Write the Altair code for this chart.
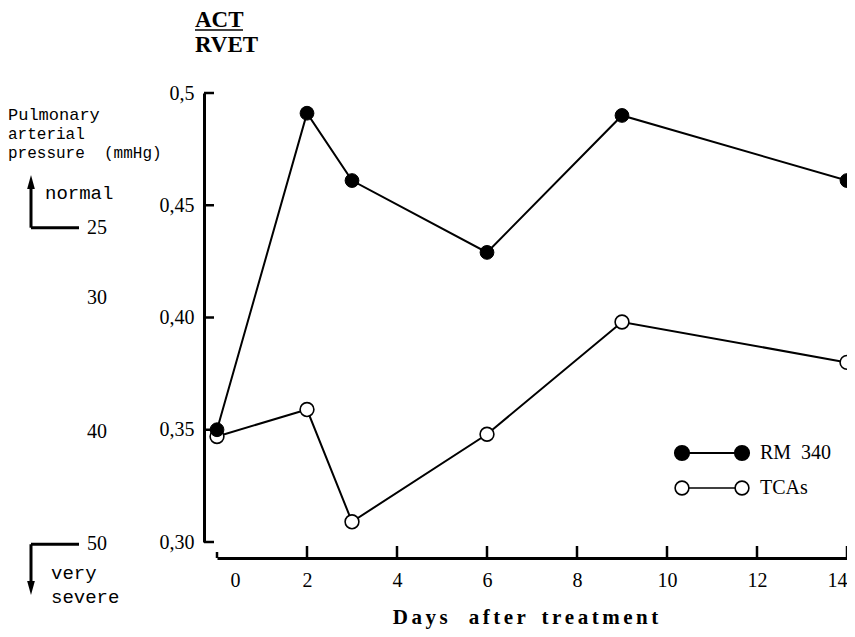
import altair as alt
import pandas as pd

# ---- data ----
days = [0, 2, 3, 6, 9, 14]
rm340 = [0.350, 0.491, 0.461, 0.429, 0.490, 0.461]
tcas = [0.347, 0.359, 0.309, 0.348, 0.398, 0.380]
series_names = ["RM 340", "TCAs"]
x_ticks = [0, 2, 4, 6, 8, 10, 12, 14]
y_ticks = [0.30, 0.35, 0.40, 0.45, 0.50]
pressure_labels = ["25", "30", "40", "50"]
pressure_at = [0.440, 0.4085, 0.349, 0.299]

W, H = 630, 449
SERIF = "Liberation Serif"
MONO = "Liberation Mono"
NB = "\u00a0"
SP = "\u2006"


def spaced(word):
    return SP.join(word)


x_title = spaced("Days") + NB * 4 + spaced("after") + NB * 3 + spaced("treatment")

df = pd.DataFrame({
    "day": days + days,
    "value": rm340 + tcas,
    "series": [series_names[0]] * len(days) + [series_names[1]] * len(days),
})
tdf = pd.DataFrame({"day": x_ticks})
ydf = pd.DataFrame({"value": y_ticks})
pdf = pd.DataFrame({"label": pressure_labels, "value": pressure_at})
one = pd.DataFrame({"k": [0]})

xs = alt.Scale(domain=[0, 14], nice=False, zero=False)
ys = alt.Scale(domain=[0.30, 0.50], nice=False, zero=False)

xaxis = alt.Axis(
    values=x_ticks, ticks=False, tickSize=0, grid=False,
    domainColor="black", domainWidth=3, offset=16,
    labelFont=SERIF, labelFontSize=20, labelColor="black", labelPadding=12,
    labelFlush=False, labelOverlap=False,
    labelAlign={"condition": {"test": "datum.value == 14", "value": "right"}, "value": "center"},
    labelOffset={"condition": {"test": "datum.value == 0", "value": 18}, "value": 0},
    title=x_title, titleFont=SERIF, titleFontSize=21,
    titleFontWeight="bold", titleColor="black", titlePadding=16, titleX=308,
)
yaxis = alt.Axis(
    values=y_ticks, ticks=False, tickSize=0, grid=False,
    domainColor="black", domainWidth=3, offset=13,
    labelFont=SERIF, labelFontSize=20, labelColor="black", labelPadding=10,
    labelOverlap=False,
    labelExpr="datum.value > 0.49 ? '0,5' : replace(format(datum.value, '.2f'), '.', ',')",
    title=None,
)

X = alt.X("day:Q", scale=xs, axis=xaxis)
Y = alt.Y("value:Q", scale=ys, axis=yaxis)

lines = alt.Chart(df).mark_line(color="black", strokeWidth=2).encode(x=X, y=Y, detail="series:N")
tca_pts = alt.Chart(df).transform_filter(f"datum.series == '{series_names[1]}'").mark_point(
    shape="circle", filled=True, fill="white", stroke="black", strokeWidth=1.6, size=190, opacity=1
).encode(x=X, y=Y)
rm_pts = alt.Chart(df).transform_filter(f"datum.series == '{series_names[0]}'").mark_point(
    shape="circle", filled=True, fill="black", stroke="black", strokeWidth=1, size=190, opacity=1
).encode(x=X, y=Y)

# inward ticks
xt_main = alt.Chart(tdf).transform_filter("datum.day > 0").mark_rule(color="black", strokeWidth=2.5).encode(
    x=X, y=alt.value(H + 16), y2=alt.value(H + 4))
xt_end = alt.Chart(tdf).transform_filter("datum.day == 0").mark_rule(color="black", strokeWidth=2.5).encode(
    x=X, y=alt.value(H + 16), y2=alt.value(H + 10))
yt = alt.Chart(ydf).mark_rule(color="black", strokeWidth=2.5).encode(
    y=Y, x=alt.value(-13), x2=alt.value(-3))

# pressure side scale
p_text = alt.Chart(pdf).mark_text(align="left", baseline="middle", font=SERIF, fontSize=20, color="black").encode(
    x=alt.value(-130), y=Y, text="label:N")
p_h = alt.Chart(pdf).transform_filter("datum.label == '25' || datum.label == '50'").mark_rule(
    color="black", strokeWidth=3).encode(x=alt.value(-186), x2=alt.value(-138), y=Y)
p_v_up = alt.Chart(pdf).transform_filter("datum.label == '25'").mark_rule(color="black", strokeWidth=3).encode(
    x=alt.value(-186), y=Y, y2=alt.value(91))
p_v_dn = alt.Chart(pdf).transform_filter("datum.label == '50'").mark_rule(color="black", strokeWidth=3).encode(
    x=alt.value(-186), y=Y, y2=alt.value(493))
arrow_up = alt.Chart(one).mark_point(shape="M0,-1L0.55,1L-0.55,1Z", filled=True, fill="black",
                                     strokeWidth=0, size=196, opacity=1).encode(x=alt.value(-186), y=alt.value(89))
arrow_dn = alt.Chart(one).mark_point(shape="M0,1L0.55,-1L-0.55,-1Z", filled=True, fill="black",
                                     strokeWidth=0, size=196, opacity=1).encode(x=alt.value(-186), y=alt.value(495))


def txt(s, x, y, font=SERIF, size=20, weight="normal", align="left"):
    return alt.Chart(one).mark_text(text=s, align=align, baseline="middle", font=font, fontSize=size,
                                    fontWeight=weight, color="black").encode(x=alt.value(x), y=alt.value(y))


side = [
    txt("Pulmonary", -209, 22, MONO, 17),
    txt("arterial", -209, 41, MONO, 16),
    txt(f"pressure{NB*2}(mmHg)", -209, 60, MONO, 16),
    txt("normal", -172, 100, MONO, 19),
    txt("very", -166, 480, MONO, 19),
    txt("severe", -166, 504, MONO, 19),
]

# y title as fraction
title = [
    txt("ACT", -22, -73, SERIF, 23, "bold"),
    txt("RVET", -22, -48, SERIF, 23, "bold"),
    alt.Chart(one).mark_rule(color="black", strokeWidth=1.5).encode(
        x=alt.value(-22), x2=alt.value(26), y=alt.value(-63)),
]

# legend
LX1, LX2, LT = 465, 525, 543
RY, TY = 360, 395
legend = [
    alt.Chart(one).mark_rule(color="black", strokeWidth=2).encode(x=alt.value(LX1), x2=alt.value(LX2), y=alt.value(RY)),
    alt.Chart(one).mark_rule(color="black", strokeWidth=1.5).encode(x=alt.value(LX1), x2=alt.value(LX2), y=alt.value(TY)),
]
for lx in (LX1, LX2):
    legend.append(alt.Chart(one).mark_point(shape="circle", filled=True, fill="black", stroke="black",
                                            size=200, opacity=1).encode(x=alt.value(lx), y=alt.value(RY)))
    legend.append(alt.Chart(one).mark_point(shape="circle", filled=True, fill="white", stroke="black",
                                            strokeWidth=1.6, size=190, opacity=1).encode(x=alt.value(lx), y=alt.value(TY)))
legend.append(txt(f"RM{NB*2}340", LT, RY, SERIF, 20))
legend.append(txt("TCAs", LT, TY, SERIF, 20))

chart = alt.layer(
    lines, xt_main, xt_end, yt, tca_pts, rm_pts,
    p_text, p_h, p_v_up, p_v_dn, arrow_up, arrow_dn,
    *side, *title, *legend,
).properties(
    width=W, height=H,
    padding={"left": 209, "top": 85, "right": 0, "bottom": 87},
    autosize=alt.AutoSizeParams(type="none"),
    background="white",
).configure_view(stroke=None)

chart.save("out.html", embed_options={"renderer": "svg", "actions": False})
